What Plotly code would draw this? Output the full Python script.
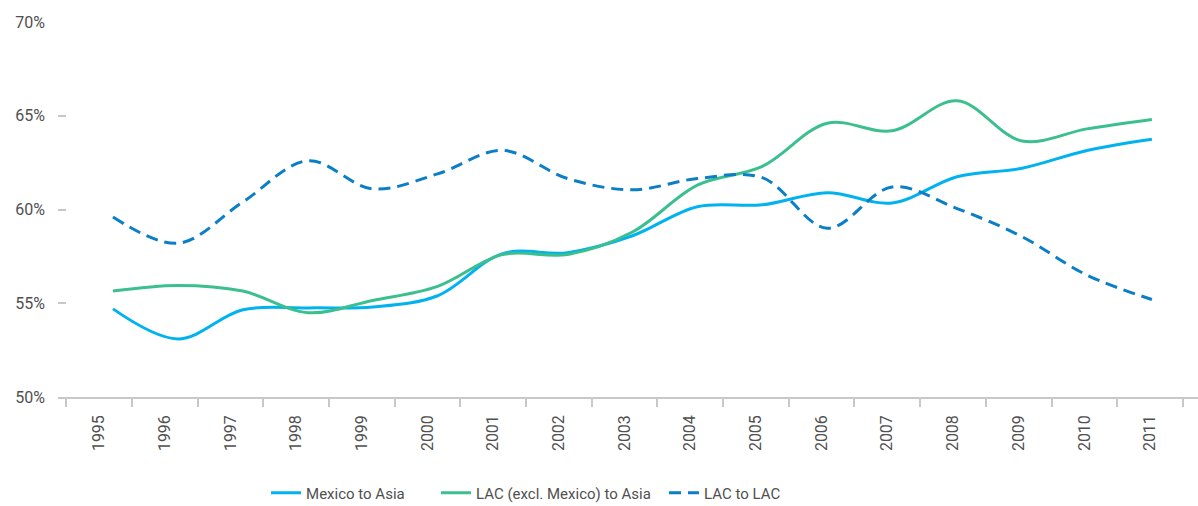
import plotly.graph_objects as go

years = [str(y) for y in range(1995, 2012)]
year_nums = list(range(1995, 2012))

mexico_asia = [54.7, 53.1, 54.65, 54.75, 54.8, 55.4, 57.65, 57.7, 58.6, 60.15, 60.25, 60.9, 60.35, 61.75, 62.2, 63.15, 63.75]
lac_excl_asia = [55.65, 55.95, 55.65, 54.5, 55.15, 55.9, 57.6, 57.6, 58.8, 61.3, 62.3, 64.6, 64.2, 65.8, 63.65, 64.3, 64.8]
lac_to_lac = [59.6, 58.2, 60.4, 62.6, 61.1, 61.9, 63.15, 61.65, 61.05, 61.65, 61.7, 59.0, 61.2, 60.05, 58.55, 56.5, 55.2]

series_names = ["Mexico to Asia", "LAC (excl. Mexico) to Asia", "LAC to LAC"]
series_colors = ["#00B2EF", "#3CBF8E", "#0A7EC6"]
series_dash = ["solid", "solid", "12px,7px"]
legend_ids = ["legend", "legend2", "legend3"]
legend_x = [0.1825, 0.3316, 0.5316]

FONT = "Roboto, sans-serif"
TXT = "#505050"

fig = go.Figure()

for name, vals, color, dash, lg in zip(series_names, [mexico_asia, lac_excl_asia, lac_to_lac],
                                       series_colors, series_dash, legend_ids):
    fig.add_trace(go.Scatter(
        x=year_nums, y=vals, name=name, mode="lines",
        xaxis="x2", legend=lg,
        line=dict(color=color, width=3, shape="spline", smoothing=1, dash=dash),
        hoverinfo="x+y+name",
    ))

# invisible trace on the categorical axis so the category labels render
fig.add_trace(go.Scatter(x=years, y=[None] * len(years), showlegend=False, hoverinfo="skip", xaxis="x"))

legend_common = dict(orientation="h", y=-0.256, yanchor="middle", xanchor="left",
                     font=dict(family=FONT, size=15, color=TXT), itemwidth=30,
                     bgcolor="rgba(0,0,0,0)", borderwidth=0)

fig.update_layout(
    width=1198, height=506,
    paper_bgcolor="white", plot_bgcolor="white",
    margin=dict(l=58, r=0, t=22, b=109, autoexpand=False),
    font=dict(family=FONT, size=16, color=TXT),
    showlegend=True,
    legend=dict(x=legend_x[0], **legend_common),
    legend2=dict(x=legend_x[1], **legend_common),
    legend3=dict(x=legend_x[2], **legend_common),
    xaxis=dict(
        type="category", categoryorder="array", categoryarray=years,
        range=[-0.624, 16.73], automargin=False,
        showgrid=False, zeroline=False,
        showline=True, linecolor="#c8c8c8", linewidth=1.5,
        ticks="outside", tickson="boundaries", ticklen=8, tickcolor="#c8c8c8", tickwidth=1.5,
        tickangle=-90, ticklabelstandoff=10,
        tickfont=dict(family=FONT, size=16, color=TXT),
        fixedrange=True,
    ),
    xaxis2=dict(
        overlaying="x", range=[1994.153, 2011.71], visible=False, showgrid=False, zeroline=False,
    ),
    yaxis=dict(
        range=[50, 70], dtick=5, tick0=50, ticksuffix="%", automargin=False,
        showgrid=False, zeroline=False, showline=False,
        ticks="inside", ticklen=8, tickcolor="#c8c8c8", tickwidth=1.5,
        ticklabelstandoff=12,
        tickfont=dict(family=FONT, size=16, color=TXT),
    ),
)

fig.write_html("out.html", config={"displayModeBar": False},
               post_script="document.body.style.margin='0';")
